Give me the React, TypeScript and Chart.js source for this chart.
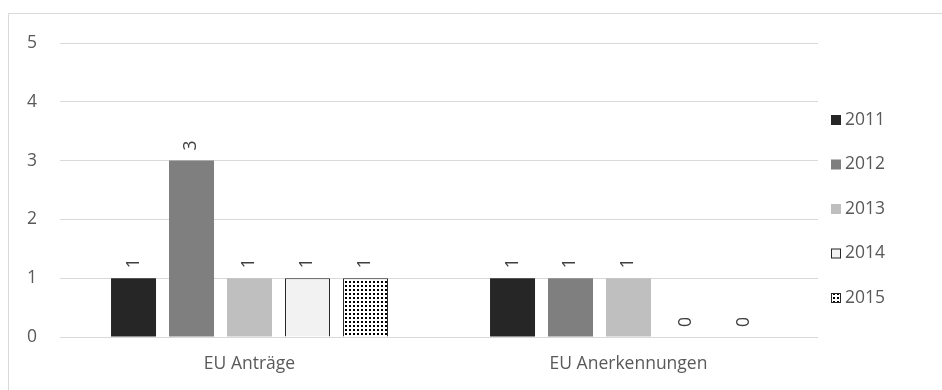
import React, { useEffect, useRef } from "react";
import { Chart, registerables } from "chart.js";

Chart.register(...registerables);

const categories = ["EU Anträge", "EU Anerkennungen"];
const seriesLabels = ["2011", "2012", "2013", "2014", "2015"];
const values2011 = [1, 1];
const values2012 = [3, 1];
const values2013 = [1, 1];
const values2014 = [1, 0];
const values2015 = [1, 0];
const yMin = 0;
const yMax = 5;
const yStep = 1;

const FONT = "'Open Sans', sans-serif";
const TEXT = "#595959";
const GRID = "#d9d9d9";
const FS = 17.5;

function makeDots(): CanvasPattern | string {
  const c = document.createElement("canvas");
  c.width = 4;
  c.height = 4;
  const g = c.getContext("2d");
  if (!g) return "#888";
  g.fillStyle = "#ffffff";
  g.fillRect(0, 0, 4, 4);
  g.fillStyle = "#000000";
  g.fillRect(1, 1, 2, 2);
  const p = g.createPattern(c, "repeat");
  return p || "#888";
}

export default function App() {
  const ref = useRef<HTMLCanvasElement | null>(null);

  useEffect(() => {
    if (!ref.current) return;
    const dots = makeDots();
    const all = [values2011, values2012, values2013, values2014, values2015];
    const fills = ["#262626", "#7f7f7f", "#bfbfbf", "#f2f2f2", dots];
    const borders = ["#262626", "#7f7f7f", "#bfbfbf", "#262626", "#262626"];
    const bw = [0, 0, 0, 1, 1];

    const frame = {
      id: "frame",
      beforeDraw(chart: any) {
        const ctx = chart.ctx;
        ctx.save();
        ctx.fillStyle = "#ffffff";
        ctx.fillRect(0, 0, chart.width, chart.height);
        ctx.strokeStyle = GRID;
        ctx.lineWidth = 1;
        ctx.beginPath();
        ctx.moveTo(8.5, chart.height + 2);
        ctx.lineTo(8.5, 13.5);
        ctx.lineTo(chart.width + 2, 13.5);
        ctx.stroke();
        ctx.restore();
      },
    };

    const dataLabels = {
      id: "dataLabels",
      afterDatasetsDraw(chart: any) {
        const ctx = chart.ctx;
        ctx.save();
        ctx.font = `${FS}px ${FONT}`;
        ctx.fillStyle = "#404040";
        ctx.textAlign = "left";
        ctx.textBaseline = "middle";
        chart.data.datasets.forEach((ds: any, i: number) => {
          const meta = chart.getDatasetMeta(i);
          meta.data.forEach((el: any, j: number) => {
            ctx.save();
            ctx.translate(el.x, el.y - 10);
            ctx.rotate(-Math.PI / 2);
            ctx.fillText(String(ds.data[j]), 0, 0);
            ctx.restore();
          });
        });
        ctx.restore();
      },
    };

    const legend = {
      id: "customLegend",
      afterDraw(chart: any) {
        const ctx = chart.ctx;
        ctx.save();
        ctx.font = `${FS}px ${FONT}`;
        ctx.textAlign = "left";
        ctx.textBaseline = "middle";
        chart.data.datasets.forEach((ds: any, i: number) => {
          const cy = 120 + i * 44.5;
          const bx = chart.chartArea.right + 13;
          ctx.fillStyle = ds.backgroundColor;
          ctx.fillRect(bx, cy - 5, 10, 10);
          if (ds.borderWidth) {
            ctx.strokeStyle = ds.borderColor;
            ctx.lineWidth = 1;
            ctx.strokeRect(bx + 0.5, cy - 4.5, 9, 9);
          }
          ctx.fillStyle = TEXT;
          ctx.fillText(ds.label, bx + 14, cy);
        });
        ctx.restore();
      },
    };

    const chart = new Chart(ref.current, {
      type: "bar",
      data: {
        labels: categories,
        datasets: seriesLabels.map((label, i) => ({
          label,
          data: all[i],
          backgroundColor: fills[i] as any,
          borderColor: borders[i],
          borderWidth: bw[i],
          categoryPercentage: 0.765,
          barPercentage: 0.776,
        })),
      },
      options: {
        responsive: false,
        animation: false,
        layout: { padding: { left: 10, top: 43, right: 124, bottom: 0 } },
        plugins: {
          legend: { display: false },
          tooltip: { enabled: false },
        },
        scales: {
          x: {
            grid: { display: false, drawTicks: false },
            border: { display: false },
            ticks: { color: TEXT, font: { family: FONT, size: FS }, padding: 17 },
            afterFit(scale: any) {
              scale.height = 53;
            },
          },
          y: {
            min: yMin,
            max: yMax,
            ticks: { stepSize: yStep, color: TEXT, font: { family: FONT, size: FS }, padding: 23 },
            grid: { color: GRID, lineWidth: 1, drawTicks: false },
            border: { display: false },
            afterFit(scale: any) {
              scale.width = 50;
            },
          },
        },
      },
      plugins: [frame, dataLabels, legend],
    });
    return () => chart.destroy();
  }, []);

  return (
    <div style={{ position: "absolute", left: 0, top: 0, width: 942, height: 390 }}>
      <canvas ref={ref} width={942} height={390} />
    </div>
  );
}
